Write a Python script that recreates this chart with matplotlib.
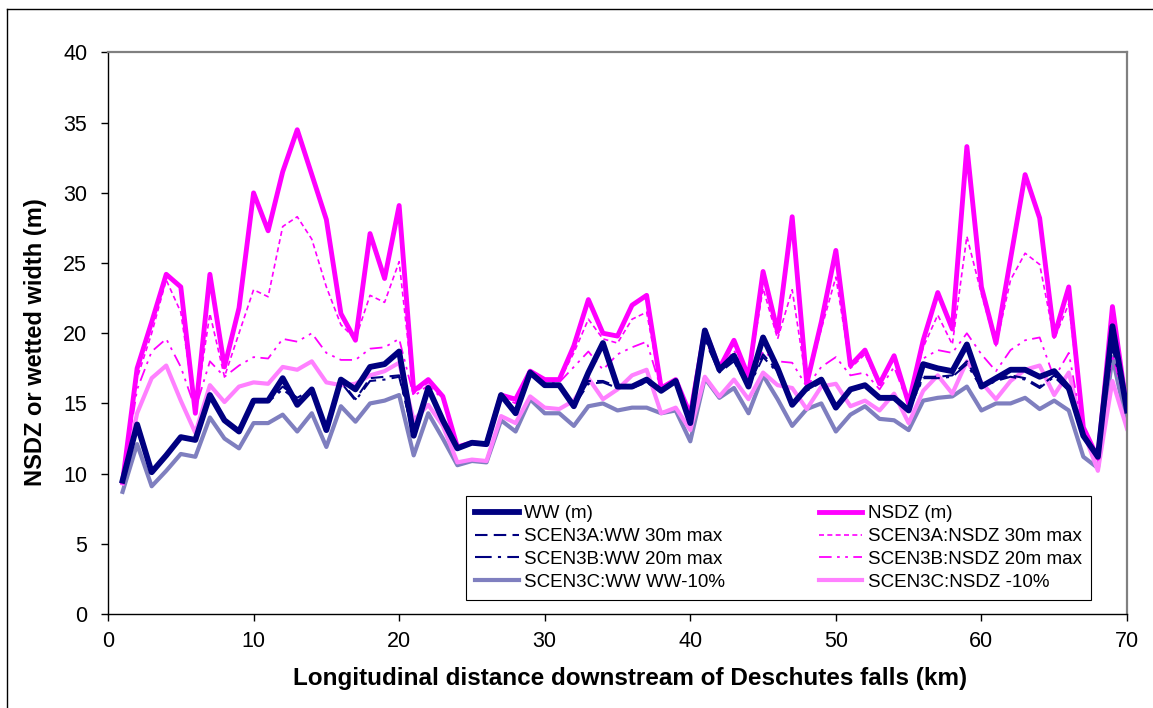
import matplotlib
matplotlib.use("Agg")
import matplotlib.pyplot as plt
from matplotlib.lines import Line2D
import numpy as np

plt.rcParams['font.family'] = ['Liberation Sans', 'DejaVu Sans']

km = list(range(1, 71))

ww = [9.5, 13.5, 10.1, 11.3, 12.6, 12.4, 15.6, 13.8, 13.0, 15.2,
      15.2, 16.8, 14.9, 16.0, 13.1, 16.7, 16.0, 17.6, 17.8, 18.7,
      12.7, 16.1, 13.8, 11.8, 12.2, 12.1, 15.6, 14.3, 17.2, 16.3,
      16.3, 14.8, 17.2, 19.3, 16.2, 16.2, 16.7, 15.9, 16.6, 13.6,
      20.2, 17.4, 18.4, 16.2, 19.7, 17.5, 14.9, 16.1, 16.7, 14.7,
      16.0, 16.3, 15.4, 15.4, 14.5, 17.8, 17.5, 17.3, 19.2, 16.2,
      16.8, 17.4, 17.4, 16.9, 17.3, 16.1, 12.7, 11.2, 20.5, 14.5]

nsdz = [9.4, 17.5, 20.8, 24.2, 23.3, 14.3, 24.2, 17.6, 21.8, 30.0,
        27.3, 31.5, 34.5, 31.3, 28.1, 21.4, 19.5, 27.1, 23.9, 29.1,
        15.9, 16.7, 15.5, 11.9, 12.2, 12.1, 15.6, 15.3, 17.3, 16.7,
        16.7, 19.1, 22.4, 20.0, 19.8, 22.0, 22.7, 16.1, 16.7, 14.2,
        20.2, 17.5, 19.5, 16.9, 24.4, 20.1, 28.3, 16.4, 20.8, 25.9,
        17.7, 18.8, 16.4, 18.4, 15.0, 19.5, 22.9, 20.3, 33.3, 23.3,
        19.3, 25.3, 31.3, 28.2, 19.8, 23.3, 13.3, 11.1, 21.9, 14.5]

scen3a_ww = [9.5, 13.4, 10.1, 11.3, 12.6, 12.4, 15.5, 13.8, 13.0, 15.2,
             15.2, 16.2, 15.4, 16.0, 13.1, 16.6, 15.3, 16.8, 16.9, 17.0,
             12.7, 16.0, 13.8, 11.8, 12.2, 12.1, 15.6, 14.3, 17.2, 16.2,
             16.2, 14.8, 16.6, 16.6, 16.2, 16.2, 16.6, 15.9, 16.6, 13.6,
             19.8, 17.3, 18.2, 16.2, 18.5, 17.3, 14.9, 16.0, 16.6, 14.7,
             16.0, 16.3, 15.4, 15.4, 14.5, 16.9, 16.9, 17.0, 18.0, 16.2,
             16.7, 17.0, 16.8, 16.2, 17.0, 16.0, 12.7, 11.2, 19.5, 14.5]

scen3a_nsdz = [9.4, 16.8, 20.0, 23.8, 21.5, 14.5, 21.4, 16.9, 20.0, 23.1,
               22.6, 27.6, 28.3, 26.7, 23.3, 20.6, 19.6, 22.7, 22.2, 25.1,
               15.7, 16.5, 15.4, 11.8, 12.2, 12.1, 15.6, 15.1, 17.2, 16.6,
               16.6, 18.6, 21.0, 19.6, 19.3, 21.0, 21.5, 16.0, 16.6, 14.1,
               20.0, 17.4, 19.2, 16.8, 23.2, 19.6, 23.1, 16.3, 20.3, 24.0,
               17.5, 18.5, 16.2, 18.2, 14.9, 19.0, 21.3, 19.2, 26.9, 22.8,
               19.1, 23.8, 25.7, 24.9, 19.6, 22.1, 13.2, 11.0, 21.3, 14.5]

scen3b_ww = [9.5, 13.3, 10.1, 11.3, 12.6, 12.4, 15.4, 13.8, 13.0, 15.1,
             15.1, 16.0, 15.2, 15.9, 13.1, 16.5, 15.2, 16.6, 16.7, 16.9,
             12.7, 16.0, 13.8, 11.8, 12.2, 12.1, 15.5, 14.3, 17.1, 16.2,
             16.2, 14.8, 16.4, 16.5, 16.1, 16.1, 16.5, 15.8, 16.5, 13.6,
             19.5, 17.2, 18.0, 16.1, 18.3, 17.2, 14.9, 15.9, 16.5, 14.7,
             15.9, 16.2, 15.3, 15.3, 14.5, 16.8, 16.8, 16.9, 17.8, 16.1,
             16.6, 16.9, 16.7, 16.1, 16.9, 15.9, 12.7, 11.2, 19.0, 14.5]

scen3b_nsdz = [9.4, 16.0, 18.7, 19.6, 17.6, 14.6, 18.0, 16.9, 17.7, 18.3,
               18.2, 19.6, 19.4, 20.0, 18.6, 18.1, 18.1, 18.9, 19.0, 19.6,
               15.5, 16.3, 15.3, 11.8, 12.1, 12.0, 15.5, 15.0, 17.1, 16.5,
               16.5, 17.6, 18.7, 17.4, 18.5, 19.0, 19.4, 16.0, 16.5, 14.1,
               19.6, 17.3, 18.8, 16.7, 18.7, 18.0, 17.9, 16.2, 17.6, 18.3,
               17.0, 17.2, 16.0, 17.6, 14.9, 18.2, 18.8, 18.6, 20.0, 18.5,
               17.3, 18.8, 19.5, 19.7, 16.8, 18.6, 12.9, 11.0, 18.5, 14.5]

scen3c_ww = [8.7, 12.1, 9.1, 10.2, 11.4, 11.2, 14.0, 12.5, 11.8, 13.6,
             13.6, 14.2, 13.0, 14.3, 11.9, 14.8, 13.7, 15.0, 15.2, 15.6,
             11.3, 14.3, 12.5, 10.6, 10.9, 10.8, 13.8, 13.0, 15.3, 14.3,
             14.3, 13.4, 14.8, 15.0, 14.5, 14.7, 14.7, 14.3, 14.5, 12.3,
             16.8, 15.4, 16.1, 14.3, 17.0, 15.3, 13.4, 14.6, 15.0, 13.0,
             14.2, 14.8, 13.9, 13.8, 13.1, 15.2, 15.4, 15.5, 16.2, 14.5,
             15.0, 15.0, 15.4, 14.6, 15.2, 14.5, 11.2, 10.4, 18.3, 13.5]

scen3c_nsdz = [9.3, 14.3, 16.8, 17.7, 15.2, 12.9, 16.3, 15.1, 16.2, 16.5,
               16.4, 17.6, 17.4, 18.0, 16.5, 16.3, 16.4, 17.0, 17.3, 17.9,
               13.8, 14.9, 13.4, 10.8, 11.0, 10.9, 14.1, 13.6, 15.5, 14.7,
               14.6, 15.2, 16.8, 15.3, 16.0, 17.0, 17.4, 14.3, 14.7, 13.1,
               16.9, 15.5, 16.7, 15.3, 17.2, 16.3, 16.1, 14.6, 16.2, 16.4,
               14.8, 15.2, 14.5, 15.7, 13.6, 15.9, 17.0, 15.7, 18.0, 16.5,
               15.3, 16.6, 17.4, 17.7, 15.6, 17.2, 13.0, 10.2, 16.6, 13.2]

labels = ["WW (m)", "NSDZ (m)",
          "SCEN3A:WW 30m max", "SCEN3A:NSDZ 30m max",
          "SCEN3B:WW 20m max", "SCEN3B:NSDZ 20m max",
          "SCEN3C:WW WW-10%", "SCEN3C:NSDZ -10%"]

W, H = 1153, 708
fig = plt.figure(figsize=(W / 100, H / 100), dpi=100)
ax = fig.add_axes([108 / W, 1 - 614 / H, (1127 - 108) / W, (614 - 52.5) / H])

navy = '#000080'
mag = '#FF00FF'

h3cw, = ax.plot(km, scen3c_ww, color='#7F7FBF', lw=3.0, label=labels[6], zorder=2)
h3cn, = ax.plot(km, scen3c_nsdz, color='#FF80FF', lw=3.0, label=labels[7], zorder=2)
h3bn, = ax.plot(km, scen3b_nsdz, color=mag, lw=1.3, dashes=(7, 3, 1.5, 3, 1.5, 3), label=labels[5], zorder=3)
h3an, = ax.plot(km, scen3a_nsdz, color=mag, lw=1.2, dashes=(3, 2), label=labels[3], zorder=3)
h3bw, = ax.plot(km, scen3b_ww, color=navy, lw=1.5, dashes=(8, 3, 1.5, 3), label=labels[4], zorder=3)
h3aw, = ax.plot(km, scen3a_ww, color=navy, lw=1.5, dashes=(6, 3), label=labels[2], zorder=3)
hn, = ax.plot(km, nsdz, color=mag, lw=3.5, label=labels[1], zorder=4)
hw, = ax.plot(km, ww, color=navy, lw=4.2, label=labels[0], zorder=5)

ax.set_xlim(0, 70)
ax.set_ylim(0, 40)
ax.set_xticks(np.arange(0, 71, 10))
ax.set_yticks(np.arange(0, 41, 5))
ax.tick_params(axis='both', direction='out', length=5, width=1, labelsize=15.5, color='black')
ax.tick_params(axis='y', pad=10)
ax.tick_params(axis='x', pad=7)

for s in ['left', 'bottom']:
    ax.spines[s].set_color('black')
    ax.spines[s].set_linewidth(1.0)
for s in ['top', 'right']:
    ax.spines[s].set_color('#808080')
    ax.spines[s].set_linewidth(1.6)

ax.set_xlabel("Longitudinal distance downstream of Deschutes falls (km)",
              fontsize=17.5, fontweight='bold', va='top')
ax.xaxis.set_label_coords(0.512, -0.095)
ax.set_ylabel("NSDZ or wetted width (m)", fontsize=17, fontweight='bold')
ax.yaxis.set_label_coords(-0.060, 0.485)

handles = [hw, h3aw, h3bw, h3cw, hn, h3an, h3bn, h3cn]
leg = ax.legend(handles=handles, labels=[h.get_label() for h in handles],
                ncol=2, loc='lower left',
                bbox_to_anchor=((466 - 108) / 1019, (614 - 600) / 561.5),
                fontsize=13.5, frameon=True, fancybox=False, framealpha=1,
                edgecolor='black', handlelength=2.3, handletextpad=0.3,
                borderaxespad=0, labelspacing=0.3, borderpad=0.5,
                columnspacing=5.0)
leg.get_frame().set_linewidth(0.8)

# chart-area border (top and left)
fig.add_artist(Line2D([7 / W, 1.0], [1 - 9 / H, 1 - 9 / H], color='black', lw=1.0,
                      transform=fig.transFigure))
fig.add_artist(Line2D([7 / W, 7 / W], [0, 1 - 9 / H], color='black', lw=1.0,
                      transform=fig.transFigure))

fig.savefig("out.png", dpi=100)
